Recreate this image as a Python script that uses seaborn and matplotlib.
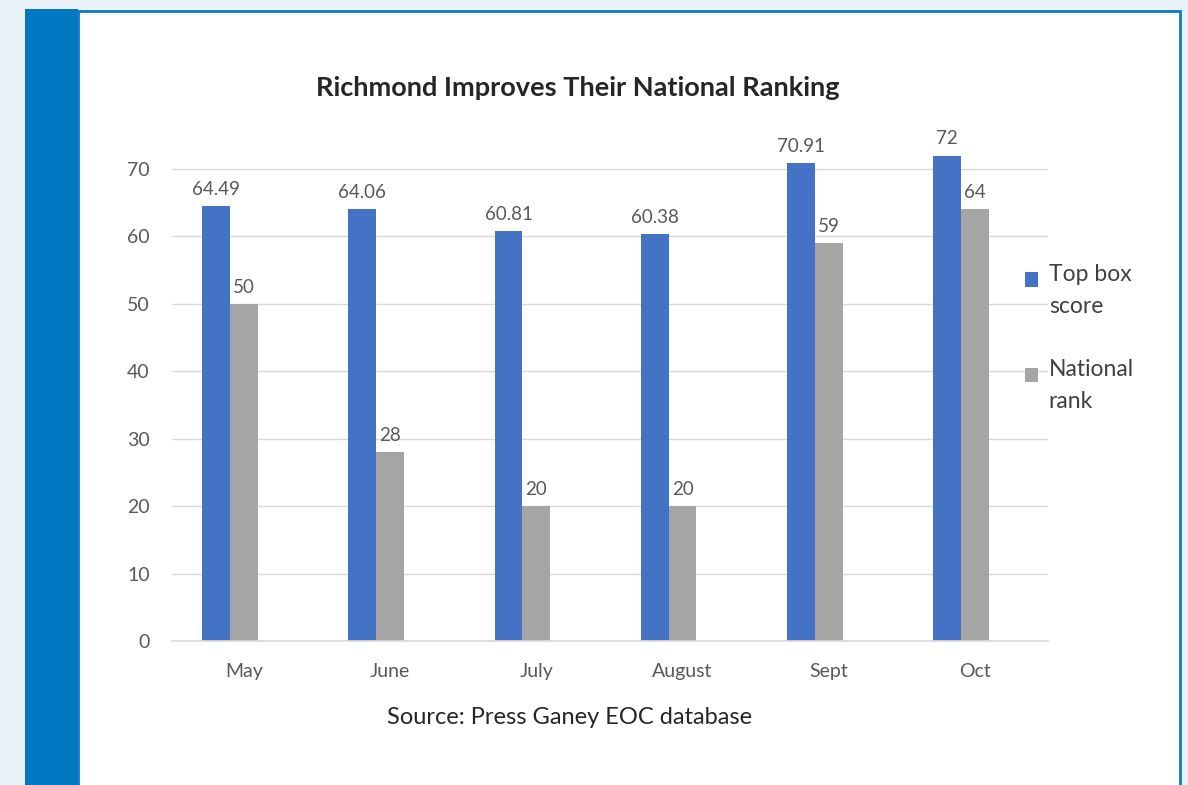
import pandas as pd
import matplotlib
matplotlib.use("Agg")
import matplotlib.pyplot as plt
import matplotlib.transforms as mtransforms
from matplotlib.patches import Rectangle
import seaborn as sns

# -----------------------------
# Data
# -----------------------------
months = ["May", "June", "July", "August", "Sept", "Oct"]
top_box_score = [64.49, 64.06, 60.81, 60.38, 70.91, 72]
national_rank = [50, 28, 20, 20, 59, 64]
series_names = ["Top box\nscore", "National\nrank"]
label_text = [["64.49", "64.06", "60.81", "60.38", "70.91", "72"],
              ["50", "28", "20", "20", "59", "64"]]

df = pd.DataFrame({
    "month": months * 2,
    "value": top_box_score + national_rank,
    "series": [series_names[0]] * len(months) + [series_names[1]] * len(months),
})

# -----------------------------
# Style
# -----------------------------
sns.set_theme(style="white")
plt.rcParams["font.family"] = ["Lato", "DejaVu Sans"]

BLUE = "#4472C4"
GRAY = "#A5A5A5"
TXT = "#595959"

fig = plt.figure(figsize=(11.88, 7.85), dpi=100)
fig.patch.set_facecolor("#eaf2f9")

# page decoration: dark side band and white card with blue border
fig.add_artist(Rectangle((25 / 1188, 0), 53 / 1188, 1 - 9 / 785,
                         transform=fig.transFigure, facecolor="#0078c1",
                         edgecolor="none", zorder=0))
fig.add_artist(Rectangle((78 / 1188, -0.01), 1102 / 1188, 1.01 - 11 / 785,
                         transform=fig.transFigure, facecolor="white",
                         edgecolor="#0a7cc9", linewidth=2, zorder=0))

ax = fig.add_axes([172 / 1188, 1 - 641 / 785, 876 / 1188, 505.7 / 785])
ax.set_facecolor("none")

sns.barplot(data=df, x="month", y="value", hue="series",
            palette=[BLUE, GRAY], width=0.38, gap=0, ax=ax,
            saturation=1, linewidth=0, legend=True)

for cont, labels in zip(ax.containers, label_text):
    ax.bar_label(cont, labels=labels, padding=6, fontsize=13.5, color=TXT)

ax.set_xlim(-0.397, 5.595)
ax.set_ylim(0, 75)
ax.set_yticks(range(0, 71, 10))
ax.yaxis.grid(True, color="#d9d9d9", linewidth=1)
ax.set_axisbelow(True)
for s in ["top", "right", "left"]:
    ax.spines[s].set_visible(False)
ax.spines["bottom"].set_color("#d9d9d9")
ax.tick_params(axis="both", length=0, labelsize=14, colors=TXT)
ax.tick_params(axis="y", pad=16)
ax.tick_params(axis="x", pad=16)
ax.set_xlabel("")
ax.set_ylabel("")

# month labels sit a little right of the bar pair, as in the original
shift = mtransforms.ScaledTranslation(0.14, 0, fig.dpi_scale_trans)
for lbl in ax.get_xticklabels():
    lbl.set_transform(lbl.get_transform() + shift)

# legend on the right
handles, labels = ax.get_legend_handles_labels()
ax.get_legend().remove()
leg = fig.legend(handles, labels, loc="upper left",
                 bbox_to_anchor=(1004 / 1188, 1 - 243 / 785), frameon=False,
                 fontsize=16.5, handlelength=0.6, handleheight=0.6,
                 handletextpad=0.45, labelspacing=1.85, labelcolor="#404040")
for t in leg.get_texts():
    t.set_linespacing(1.65)
for h in leg.legend_handles:
    h.set_y(h.get_y() + 8)

fig.text(578 / 1188, 1 - 88 / 785, "Richmond Improves Their National Ranking",
         ha="center", va="center", fontsize=19.5, fontweight="bold", color="#262626")
fig.text(570 / 1188, 1 - 717 / 785, "Source: Press Ganey EOC database",
         ha="center", va="center", fontsize=17, color="#262626")

fig.savefig("out.png", dpi=100)
